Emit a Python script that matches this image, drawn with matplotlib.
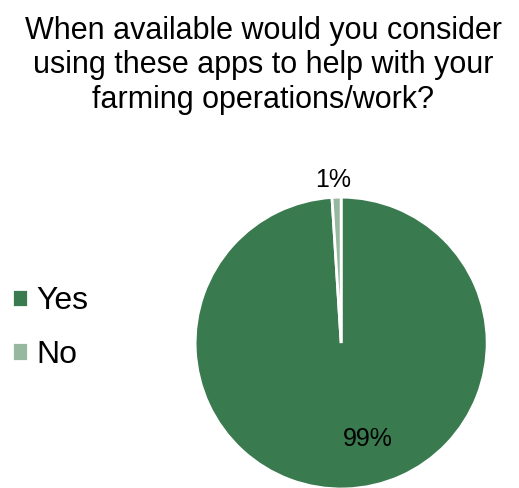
import matplotlib.pyplot as plt

plt.rcParams['font.family'] = ['Liberation Sans', 'DejaVu Sans']

answers = ['Yes', 'No']
shares = [99, 1]
colors = ['#3a7a4f', '#95b89e']
pct_labels = ['99%', '1%']

fig = plt.figure(figsize=(5.19, 4.88), dpi=100)
ax = fig.add_axes([0.376, -0.002, 0.5626, 0.598])

wedges, _ = ax.pie(shares, colors=colors, startangle=90, counterclock=False,
                   radius=1, wedgeprops={'edgecolor': 'white', 'linewidth': 2})
ax.set_xlim(-1, 1)
ax.set_ylim(-1, 1)
ax.set_aspect('auto')
ax.axis('off')

# label spots
ax.text(0.185, -0.66, pct_labels[0], ha='center', va='center', fontsize=18)
ax.text(-0.055, 1.12, pct_labels[1], ha='center', va='center', fontsize=18)

fig.text(0.507, 0.968,
         'When available would you consider\nusing these apps to help with your\nfarming operations/work?',
         ha='center', va='top', fontsize=22, linespacing=1.2)

fig.legend(wedges, answers, loc='center left', bbox_to_anchor=(0.023, 0.328),
           frameon=False, fontsize=23, handlelength=0.5, handleheight=0.5,
           handletextpad=0.25, labelspacing=0.75, borderpad=0, borderaxespad=0)

fig.savefig('out.png', dpi=100)
